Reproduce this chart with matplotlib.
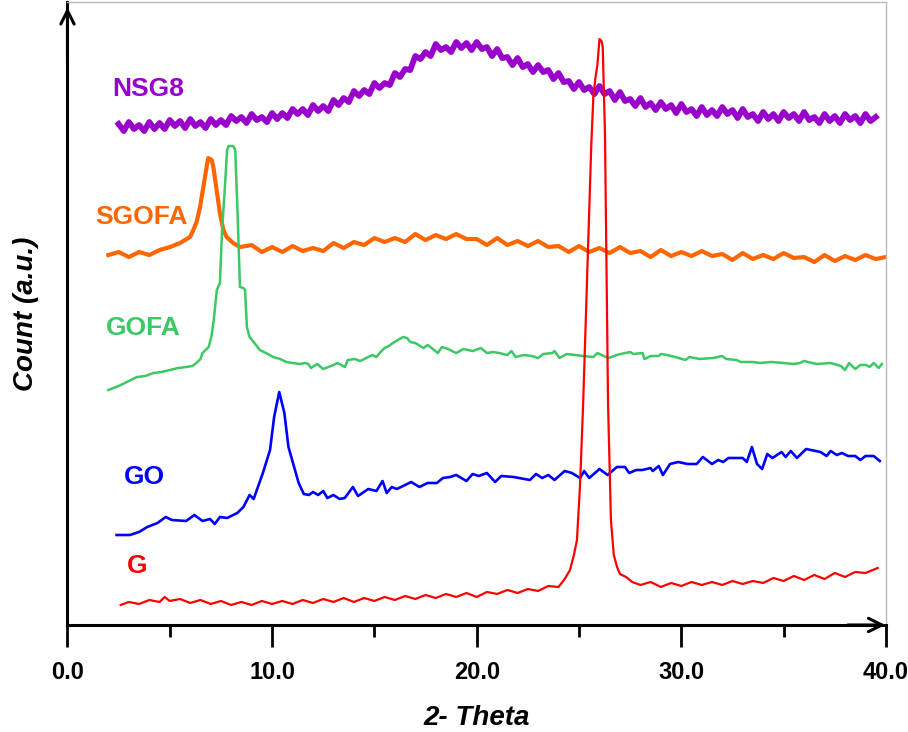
import matplotlib
matplotlib.use('Agg')
import matplotlib.pyplot as plt
import numpy as np

plt.rcParams['font.family'] = ['Liberation Sans', 'DejaVu Sans']

# NSG8 (regular 0.25 step scan)
nsg8_x = np.arange(2.5, 39.6, 0.25)
nsg8_y = [501, 494, 503, 496, 500, 494, 503, 496, 502, 496, 505, 499, 504, 497, 506, 499,
          503, 497, 506, 500, 505, 500, 509, 504, 508, 502, 511, 505, 508, 503, 512, 506,
          512, 507, 516, 511, 516, 510, 520, 514, 519, 514, 525, 520, 527, 523, 534, 529,
          535, 531, 542, 537, 542, 540, 552, 548, 556, 555, 569, 566, 573, 569, 581, 575,
          578, 573, 583, 577, 582, 575, 583, 576, 578, 569, 576, 567, 568, 560, 567, 558,
          561, 553, 560, 553, 555, 546, 552, 543, 544, 536, 543, 535, 538, 531, 539, 531,
          534, 525, 533, 524, 526, 519, 527, 518, 522, 515, 523, 516, 520, 512, 521, 513,
          516, 509, 518, 510, 515, 509, 518, 511, 515, 507, 516, 508, 511, 504, 513, 506,
          511, 504, 513, 507, 511, 504, 513, 505, 508, 502, 511, 504, 509, 502, 511, 505,
          509, 502, 511, 504, 508]

# SGOFA
sgofa_x = [2.0, 2.5, 3.0, 3.5, 4.0, 4.5, 5.01, 5.5, 5.99, 6.15, 6.31, 6.48, 6.64, 6.8, 6.88,
           7.05, 7.13, 7.29, 7.45, 7.62, 7.78, 8.1, 8.43,
           9.0, 9.5, 10.0, 10.5, 11.0, 11.5, 12.0, 12.5, 13.0, 13.5, 14.0, 14.5, 15.0, 15.5,
           16.0, 16.5, 17.0, 17.5, 18.0, 18.5, 19.0, 19.5, 20.0, 20.5, 21.0, 21.5, 22.0,
           22.5, 23.0, 23.5, 24.0, 24.5, 25.0, 25.5, 26.0, 26.5, 27.0, 27.5, 28.0, 28.5,
           29.0, 29.5, 30.0, 30.5, 31.0, 31.5, 32.0, 32.5, 33.0, 33.5, 34.0, 34.5, 35.0,
           35.5, 36.0, 36.5, 37.0, 37.5, 38.0, 38.5, 39.0, 39.5, 40.0]
sgofa_y = [370, 373, 368, 373, 370, 375, 378, 382, 388, 395, 403, 418, 438, 458, 467,
           465, 458, 435, 412, 395, 388, 382, 378,
           380, 373, 378, 373, 379, 374, 377, 374, 382, 377, 383, 380, 387, 383,
           387, 383, 391, 385, 390, 386, 391, 386, 386, 380, 387, 380, 384,
           379, 384, 378, 379, 373, 379, 373, 377, 372, 378, 372, 374, 368,
           375, 369, 373, 369, 374, 369, 371, 365, 372, 366, 370, 366, 372,
           367, 368, 363, 370, 364, 369, 365, 370, 366, 368]

# GOFA
gofa_x = [2.0, 2.5, 3.0, 3.4, 3.8, 4.2, 4.6, 5.0, 5.4, 5.8, 6.1, 6.3, 6.5, 6.6, 6.9, 7.05,
          7.15, 7.3, 7.45, 7.55, 7.7, 7.8, 7.87, 8.1, 8.2, 8.3, 8.43, 8.6, 8.68, 8.77, 8.9,
          9.1, 9.4, 9.7, 10.05, 10.4, 10.7, 11.0, 11.36, 11.6, 11.77, 11.9, 12.2, 12.5,
          12.75, 13.0, 13.2, 13.56, 13.7, 14.05, 14.3, 14.6, 14.9, 15.1, 15.3, 15.5, 15.7,
          15.9, 16.15, 16.4, 16.6, 16.75, 17.0, 17.4, 17.6, 17.8, 18.1, 18.3, 18.6, 19.0,
          19.35, 19.8, 20.2, 20.5, 20.8, 21.1, 21.5, 21.7, 21.9, 22.3, 22.7, 23.0, 23.25,
          23.7, 23.8, 24.05, 24.4, 24.8, 25.2, 25.7, 25.9, 26.2, 26.45, 26.85, 27.25, 27.5,
          27.65, 28.1, 28.2, 28.5, 28.9, 29.0, 29.3, 29.7, 30.2, 30.4, 30.9, 31.55, 32.0,
          32.2, 32.7, 32.9, 33.5, 33.85, 34.4, 35.0, 35.5, 35.8, 36.0, 36.6, 37.3, 37.8,
          38.0, 38.2, 38.5, 38.75, 39.05, 39.2, 39.4, 39.65, 39.8]
gofa_y = [235, 239, 244, 248, 249, 252, 253, 255, 257, 258, 259, 262, 266, 272, 278, 290,
          305, 335, 342, 392, 440, 475, 479, 479, 475, 420, 338, 337, 335, 298, 288,
          283, 275, 272, 268, 266, 263, 262, 261, 262, 261, 257, 261, 256,
          258, 260, 262, 258, 265, 266, 264, 267, 270, 268, 273, 277, 279,
          282, 285, 288, 287, 283, 282, 277, 280, 277, 272, 278, 276, 272,
          276, 274, 277, 272, 273, 272, 270, 274, 268, 270, 269, 267, 271,
          272, 274, 267, 271, 270, 269, 268, 272, 269, 267, 270, 272, 273,
          271, 272, 266, 269, 269, 271, 270, 268, 265, 268, 266, 267, 269,
          266, 265, 263, 263, 262, 263, 262, 261, 262, 264, 261, 262, 259,
          255, 262, 256, 260, 260, 258, 262, 257, 261]

# GO
go_x = [2.4, 3.05, 3.5, 3.9, 4.4, 4.8, 5.1, 5.8, 6.2, 6.6, 6.97, 7.2, 7.45, 7.8, 8.3, 8.6,
        8.9, 9.1, 9.55, 9.9, 10.1, 10.35, 10.6, 10.8, 11.3, 11.55, 11.8, 12.0, 12.25, 12.5,
        12.7, 13.0, 13.3, 13.55, 13.95, 14.2, 14.7, 15.1, 15.4, 15.6, 15.85, 16.1, 16.4,
        16.8, 17.2, 17.6, 18.05, 18.35, 18.7, 19.0, 19.5, 19.8, 20.1, 20.5, 20.9, 21.2,
        21.8, 22.6, 22.9, 23.2, 23.5, 23.8, 24.3, 24.65, 25.05, 25.25, 25.5, 26.0, 26.4,
        26.85, 27.25, 27.45, 27.8, 28.1, 28.5, 28.6, 28.9, 29.1, 29.45, 29.85, 30.3, 30.75,
        31.05, 31.5, 31.8, 32.05, 32.3, 33.0, 33.2, 33.45, 33.7, 33.95, 34.2, 34.45, 34.9,
        35.1, 35.35, 35.65, 36.1, 36.8, 37.1, 37.3, 37.6, 37.85, 38.15, 38.5, 38.75, 39.0,
        39.4, 39.7]
go_y = [90, 90, 93, 98, 102, 108, 105, 104, 110, 104, 106, 101, 108, 107, 112, 118,
        130, 126, 152, 175, 208, 233, 212, 178, 142, 131, 130, 133, 130, 134,
        127, 130, 126, 127, 138, 129, 136, 134, 144, 132, 138, 136, 139,
        143, 138, 142, 142, 147, 148, 150, 144, 151, 149, 152, 143, 149,
        148, 145, 151, 147, 150, 145, 154, 152, 147, 154, 147, 156, 150,
        158, 158, 152, 155, 155, 157, 154, 159, 150, 161, 163, 161, 161,
        168, 161, 165, 163, 167, 167, 163, 178, 161, 156, 171, 167, 173,
        168, 174, 167, 176, 173, 169, 174, 170, 172, 169, 169, 165, 169,
        169, 164]

# G
g_x = [2.6, 3.0, 3.5, 4.0, 4.5, 4.75, 5.0, 5.5, 6.0, 6.5, 7.0, 7.5, 8.0, 8.5, 9.0, 9.5,
       10.0, 10.5, 11.0, 11.5, 12.0, 12.5, 13.0, 13.5, 14.0, 14.5, 15.0, 15.5, 16.0, 16.5,
       17.0, 17.5, 18.0, 18.5, 19.0, 19.5, 20.0, 20.5, 21.0, 21.5, 22.0, 22.5, 23.0, 23.5,
       24.0, 24.3, 24.56, 24.75, 24.9, 25.05, 25.2, 25.4, 25.6, 25.7, 25.8, 25.9, 26.0,
       26.1, 26.16, 26.27, 26.42, 26.56, 26.7, 26.86, 27.0, 27.3, 27.6, 28.0, 28.5, 29.0,
       29.5, 30.0, 30.5, 31.0, 31.5, 32.0, 32.5, 33.0, 33.5, 34.0, 34.5, 35.0, 35.5, 36.0,
       36.5, 37.0, 37.5, 38.0, 38.5, 39.0, 39.6]
g_y = [20, 23, 21, 25, 23, 28, 24, 26, 22, 25, 21, 24, 20, 23, 20, 24,
       21, 24, 21, 25, 22, 26, 23, 27, 23, 27, 24, 28, 25, 29,
       26, 30, 27, 31, 28, 32, 28, 33, 31, 35, 32, 36, 34, 39,
       38, 46, 55, 70, 85, 140, 220, 350, 480, 528, 547, 560, 586,
       584, 578, 490, 220, 105, 70, 58, 51, 48, 43, 40, 43, 38,
       42, 39, 43, 40, 43, 40, 44, 41, 44, 42, 47, 44, 49, 45,
       50, 46, 52, 48, 53, 52, 57]

fig = plt.figure(figsize=(9.08, 7.32), dpi=100)
ax = fig.add_axes([0.0743, 0.1462, 0.9014, 0.851])

ax.plot(nsg8_x, nsg8_y, color='#9900CC', lw=4.2)
ax.plot(sgofa_x, sgofa_y, color='#FF6600', lw=3)
ax.plot(gofa_x, gofa_y, color='#3CC864', lw=1.8)
ax.plot(go_x, go_y, color='#0000FF', lw=1.9)
ax.plot(g_x, g_y, color='#FF0000', lw=1.6)

lab = dict(fontsize=19, fontweight='bold', ha='center', va='center')
ax.text(3.93, 536, 'NSG8', color='#9900CC', **lab)
ax.text(3.59, 408, 'SGOFA', color='#FF6600', **lab)
ax.text(3.69, 297, 'GOFA', color='#3CC864', **lab)
ax.text(3.74, 148, 'GO', color='#0000FF', **lab)
ax.text(3.4, 59, 'G', color='#FF0000', **lab)

ax.set_xlim(0, 40)
ax.set_ylim(0, 623)
ax.set_xticks([0, 10, 20, 30, 40])
ax.set_xticks([5, 15, 25, 35], minor=True)
ax.set_xticklabels(['0.0', '10.0', '20.0', '30.0', '40.0'], fontsize=17, fontweight='bold')
ax.set_yticks([])
ax.tick_params(axis='x', which='major', direction='out', length=16, width=2, pad=10)
ax.tick_params(axis='x', which='minor', direction='out', length=8.5, width=2)

for s in ['top', 'right']:
    ax.spines[s].set_color('#BBBBBB')
    ax.spines[s].set_linewidth(1)
for s in ['left', 'bottom']:
    ax.spines[s].set_color('black')
    ax.spines[s].set_linewidth(2.2)

# axis arrows
ax.annotate('', xy=(0, 0.996), xytext=(0, 0.9), xycoords='axes fraction',
            arrowprops=dict(arrowstyle='->', lw=2.2, color='black', mutation_scale=24),
            annotation_clip=False)
ax.annotate('', xy=(1.0025, 0), xytext=(0.95, 0), xycoords='axes fraction',
            arrowprops=dict(arrowstyle='->', lw=2.2, color='black', mutation_scale=24),
            annotation_clip=False)

ax.set_xlabel('2- Theta', fontsize=20, fontweight='bold', fontstyle='italic')
ax.set_ylabel('Count (a.u.)', fontsize=20, fontweight='bold', fontstyle='italic')
ax.xaxis.set_label_coords(0.5, -0.128)
ax.yaxis.set_label_coords(-0.035, 0.5)

fig.savefig('out.png', dpi=100)
